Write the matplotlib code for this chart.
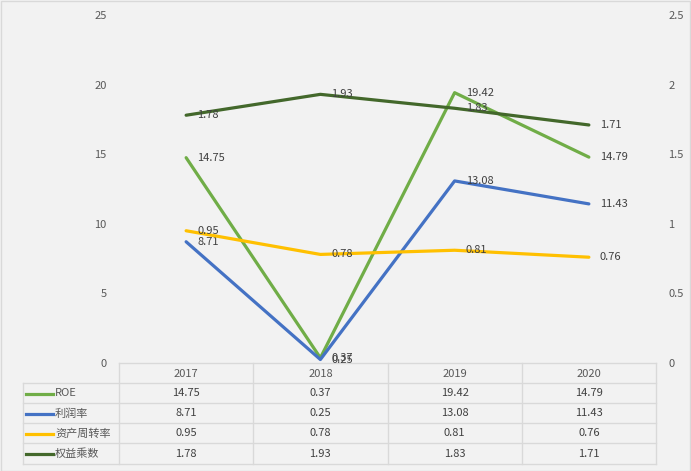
import matplotlib
matplotlib.use("Agg")
import matplotlib.pyplot as plt
from matplotlib.lines import Line2D
from matplotlib.patches import Rectangle

plt.rcParams['font.family'] = ['Noto Sans CJK SC', 'DejaVu Sans']

years = ['2017', '2018', '2019', '2020']
roe = [14.75, 0.37, 19.42, 14.79]
profit = [8.71, 0.25, 13.08, 11.43]
turnover = [0.95, 0.78, 0.81, 0.76]
equity = [1.78, 1.93, 1.83, 1.71]
names = ['ROE', '利润率', '资产周转率', '权益乘数']
colors = ['#70AD47', '#4472C4', '#FFC000', '#43682B']

W, H = 691, 471
fig = plt.figure(figsize=(W / 100, H / 100), dpi=100)
fig.patch.set_facecolor('#F2F2F2')
fig.patches.append(Rectangle((0.5 / W, 0.5 / H), 1 - 1.5 / W, 1 - 1.5 / H, transform=fig.transFigure,
                             fill=False, edgecolor='#D9D9D9', lw=1))

def px(x):
    return x / W

def py(y):
    return 1 - y / H

L, R, T, B = 119, 656, 15, 363
ax = fig.add_axes([px(L), py(B), px(R - L), (B - T) / H])
ax.set_facecolor('#F2F2F2')
ax2 = ax.twinx()

x = list(range(len(years)))
ax.plot(x, roe, color=colors[0], lw=2.3, solid_capstyle='round', zorder=3)
ax.plot(x, profit, color=colors[1], lw=2.3, solid_capstyle='round', zorder=3)
ax2.plot(x, turnover, color=colors[2], lw=2.3, solid_capstyle='round', zorder=3)
ax2.plot(x, equity, color=colors[3], lw=2.3, solid_capstyle='round', zorder=3)

ax.set_xlim(-0.5, 3.5)
ax.set_ylim(0, 25)
ax2.set_ylim(0, 2.5)
ax.set_yticks([0, 5, 10, 15, 20, 25])
ax.set_yticklabels(['0', '5', '10', '15', '20', '25'])
ax2.set_yticks([0, 0.5, 1, 1.5, 2, 2.5])
ax2.set_yticklabels(['0', '0.5', '1', '1.5', '2', '2.5'])
ax.set_xticks([])
for a in (ax, ax2):
    a.tick_params(axis='y', length=0, labelsize=8, labelcolor='#595959', pad=9)
    for s in a.spines.values():
        s.set_visible(False)
ax.spines['bottom'].set_visible(True)
ax.spines['bottom'].set_color('#D9D9D9')
ax.spines['bottom'].set_linewidth(1)

lab_kw = dict(fontsize=8, color='#404040', va='center', ha='left', zorder=5)
for i in x:
    ax.annotate(f"{roe[i]:.2f}", (i, roe[i]), xytext=(8, 0), textcoords='offset points', **lab_kw)
    ax.annotate(f"{profit[i]:.2f}", (i, profit[i]), xytext=(8, 0), textcoords='offset points', **lab_kw)
    ax2.annotate(f"{turnover[i]:.2f}", (i, turnover[i]), xytext=(8, 0), textcoords='offset points', **lab_kw)
    ax2.annotate(f"{equity[i]:.2f}", (i, equity[i]), xytext=(8, 0), textcoords='offset points', **lab_kw)

# data table
gc = '#D9D9D9'
colx = [L + (R - L) * k / 4 for k in range(5)]
rows_y = [383, 403, 423, 443, 464]
legend_left = 23

def fline(x0, y0, x1, y1):
    fig.add_artist(Line2D([px(x0), px(x1)], [py(y0), py(y1)], transform=fig.transFigure, color=gc, lw=1))

for cx in colx:
    fline(cx, B, cx, rows_y[-1])
fline(legend_left, rows_y[0], legend_left, rows_y[-1])
for ry in rows_y:
    fline(legend_left, ry, R, ry)

for k, yr in enumerate(years):
    fig.text(px((colx[k] + colx[k + 1]) / 2), py((B + rows_y[0]) / 2 + 1), yr,
             ha='center', va='center', fontsize=8, color='#595959')

series = [roe, profit, turnover, equity]
for r, (nm, vals, c) in enumerate(zip(names, series, colors)):
    cy = (rows_y[r] + rows_y[r + 1]) / 2 + 0.5
    fig.add_artist(Line2D([px(26), px(53)], [py(cy), py(cy)], transform=fig.transFigure, color=c, lw=2.3))
    fig.text(px(55), py(cy), nm, ha='left', va='center', fontsize=8, color='#595959')
    for k, v in enumerate(vals):
        fig.text(px((colx[k] + colx[k + 1]) / 2), py(cy), f"{v:.2f}",
                 ha='center', va='center', fontsize=8, color='#404040')

fig.savefig('out.png', dpi=100, facecolor=fig.get_facecolor())
